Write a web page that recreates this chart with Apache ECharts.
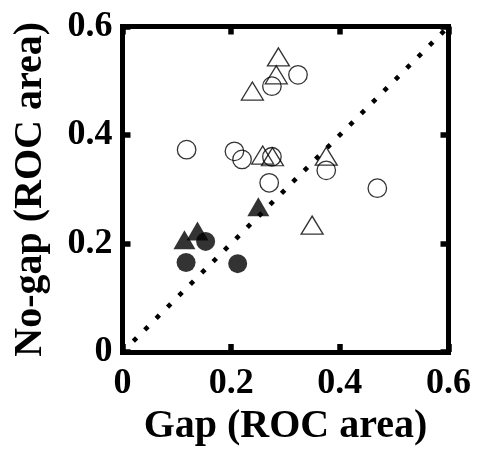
<!DOCTYPE html>
<html>
<head>
<meta charset="utf-8">
<script src="https://cdn.jsdelivr.net/npm/echarts@6/dist/echarts.min.js"></script>
<style>
  html, body { margin: 0; padding: 0; background: #fff; }
  #chart { width: 481px; height: 452px; }
</style>
</head>
<body>
<div id="chart"></div>
<script>
// ROC area for each unit, gap vs. no-gap condition: [gap, noGap]
const filledCircles = [[0.117, 0.165], [0.212, 0.163], [0.153, 0.204]];
const filledTriangles = [[0.114, 0.207], [0.138, 0.223], [0.250, 0.268]];
const openCircles = [
  [0.118, 0.373], [0.206, 0.370], [0.220, 0.355], [0.275, 0.360],
  [0.270, 0.312], [0.275, 0.490], [0.323, 0.511], [0.375, 0.335], [0.469, 0.302]
];
const openTriangles = [
  [0.287, 0.544], [0.283, 0.511], [0.239, 0.481], [0.258, 0.363],
  [0.276, 0.360], [0.375, 0.361], [0.349, 0.234]
];
// identity line (equal ROC area in both conditions)
const unityLine = [[0.02, 0.02], [0.6, 0.6]];
const tickValues = [0, 0.2, 0.4, 0.6];

const FONT = '"Liberation Serif", "Times New Roman", serif';

function frameAxis(pos, showLabels, extra) {
  return Object.assign({
    type: 'value', position: pos, min: 0, max: 0.6, interval: 0.2,
    axisLine: { show: true, onZero: false, lineStyle: { color: '#000', width: 5, cap: 'square' } },
    axisTick: { show: true, inside: true, length: 8, lineStyle: { color: '#000', width: 5.5 } },
    splitLine: { show: false },
    axisLabel: {
      show: showLabels, color: '#000', fontFamily: FONT, fontWeight: 'bold', fontSize: 36,
      formatter: v => tickValues.includes(Math.round(v * 10) / 10) ? String(Math.round(v * 10) / 10) : ''
    }
  }, extra || {});
}

const chart = echarts.init(document.getElementById('chart'), null, { renderer: 'canvas' });
chart.setOption({
  animation: false,
  grid: { left: 122.5, right: 32.5, top: 26.5, bottom: 99 },
  xAxis: [
    frameAxis('bottom', true, {
      name: 'Gap (ROC area)', nameLocation: 'middle', nameGap: 46,
      nameTextStyle: { color: '#000', fontFamily: FONT, fontWeight: 'bold', fontSize: 40 },
      axisLabel: Object.assign(frameAxis('bottom', true).axisLabel, { margin: 14 })
    }),
    frameAxis('top', false)
  ],
  yAxis: [
    frameAxis('left', true, {
      name: 'No-gap (ROC area)', nameLocation: 'middle', nameGap: 72, nameRotate: 90,
      nameTextStyle: { color: '#000', fontFamily: FONT, fontWeight: 'bold', fontSize: 40 },
      axisLabel: Object.assign(frameAxis('left', true).axisLabel, { margin: 10 })
    }),
    frameAxis('right', false)
  ],
  series: [
    {
      type: 'line', data: unityLine, symbol: 'none', silent: true, z: 1,
      lineStyle: { color: '#000', width: 4.6, type: [4.6, 11.5], cap: 'butt' }
    },
    {
      type: 'scatter', data: openCircles, symbol: 'circle', symbolSize: 18.5, z: 3,
      itemStyle: { color: 'rgba(0,0,0,0)', borderColor: '#000', borderWidth: 1.3 }
    },
    {
      type: 'scatter', data: openTriangles, symbol: 'triangle', symbolSize: [22, 18], z: 3,
      itemStyle: { color: 'rgba(0,0,0,0)', borderColor: '#000', borderWidth: 1.3 }
    },
    {
      type: 'scatter', data: filledCircles, symbol: 'circle', symbolSize: 19, z: 3,
      itemStyle: { color: '#000' }
    },
    {
      type: 'scatter', data: filledTriangles, symbol: 'triangle', symbolSize: [22, 19], z: 3,
      itemStyle: { color: '#000' }
    }
  ]
});
</script>
</body>
</html>
